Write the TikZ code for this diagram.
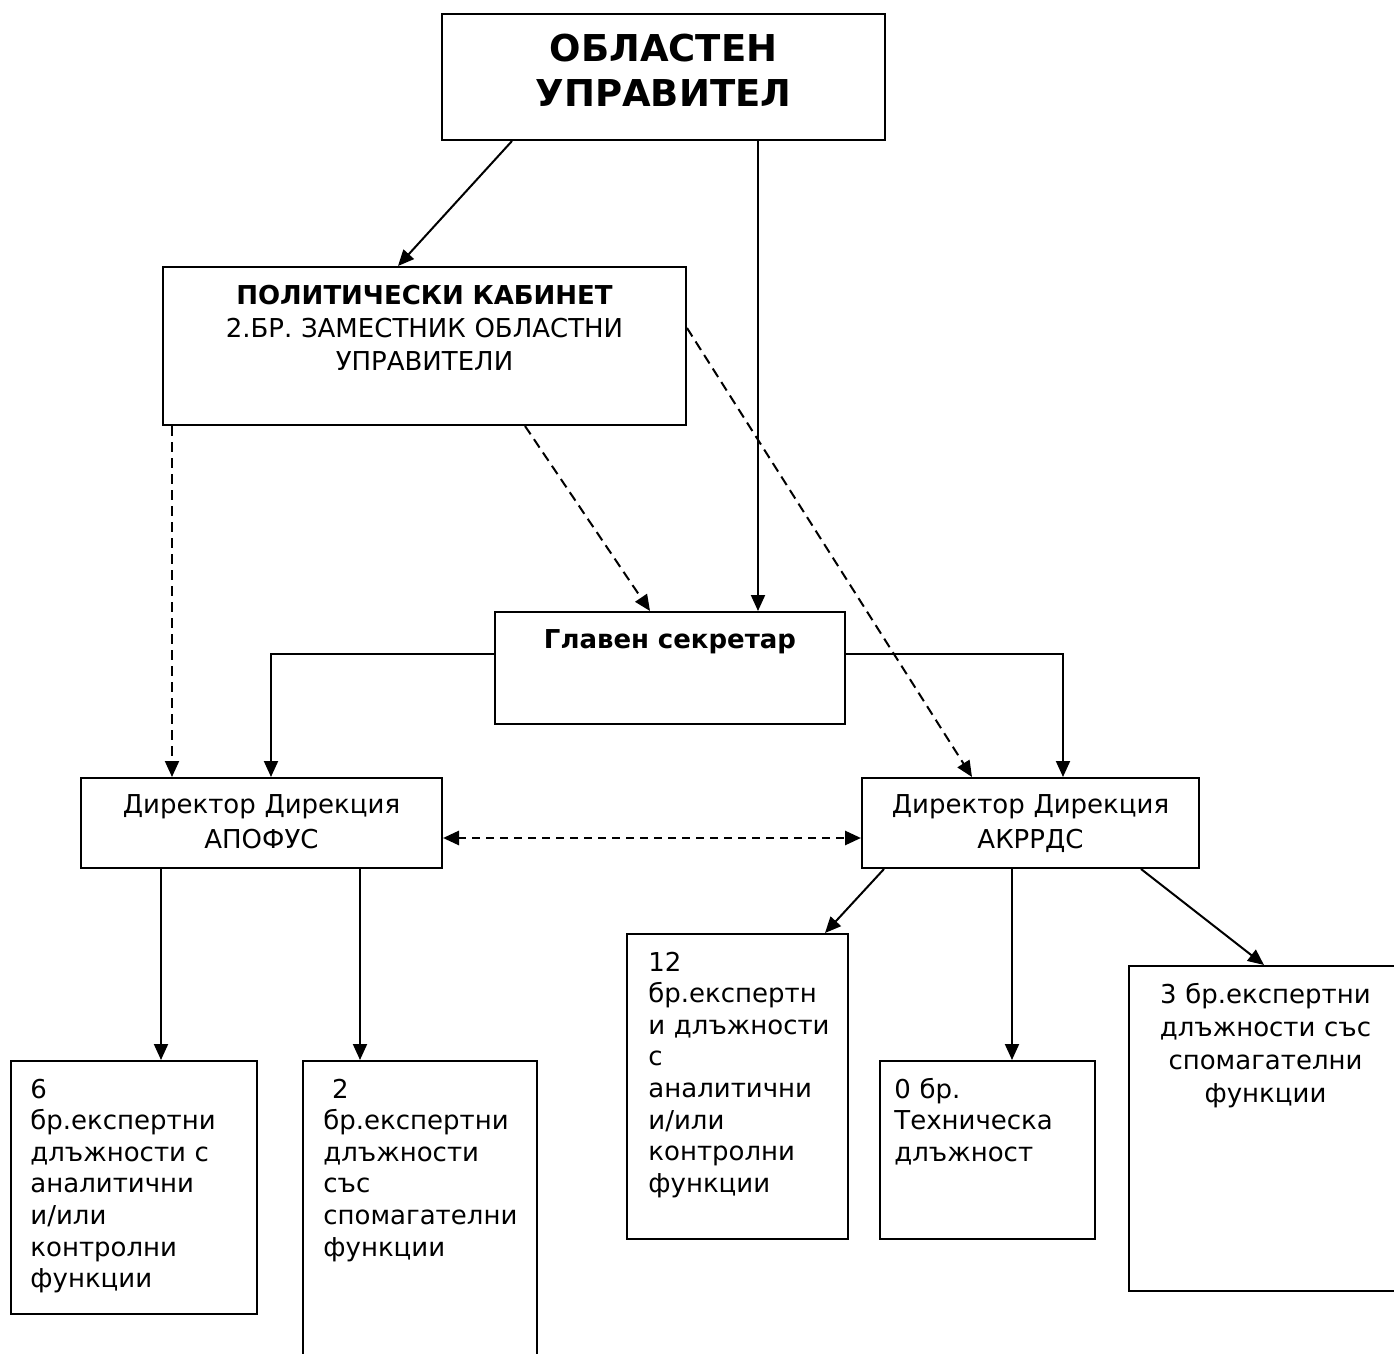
\documentclass[tikz,border=0pt]{standalone}
\usepackage{fontspec}
\setmainfont{DejaVu Sans}
\usetikzlibrary{arrows.meta}
\tikzstyle{org-box}=[draw,rectangle,line width=1pt,anchor=north west,inner sep=0pt]
\tikzstyle{title-text}=[anchor=base,inner sep=0pt,align=center,font=\fontsize{18.5pt}{22.5pt}\selectfont\bfseries]
\tikzstyle{box-text}=[anchor=base,inner sep=0pt,align=center,font=\fontsize{13pt}{16.5pt}\selectfont]
\tikzstyle{list-text}=[anchor=base west,inner sep=0pt,align=left,text width=105pt,font=\fontsize{13pt}{15.8pt}\selectfont]
\tikzstyle{black-line}=[draw=black,line width=1pt]
\tikzstyle{dash-line}=[draw=black,line width=1pt,dash pattern=on 5pt off 3pt]

\begin{document}
\begin{tikzpicture}[x=0.5pt,y=-0.5pt]
	\useasboundingbox (0,0) rectangle (1394,1354);
	\clip (0,0) rectangle (1394,1354);
	\begin{scope}
	\node (gov)[org-box,minimum width=221.5pt,minimum height=63pt] at (441,13) {};
	\node (cab)[org-box,minimum width=261.5pt,minimum height=79pt] at (162,266) {};
	\node (sec)[org-box,minimum width=175pt,minimum height=56pt] at (494,611) {};
	
	\node (apo)[org-box,minimum width=180.5pt,minimum height=45pt] at (80,777) {};
	\node (akr)[org-box,minimum width=168.5pt,minimum height=45pt] at (861,777) {};
	
	\node (b1)[org-box,minimum width=123pt,minimum height=126.5pt] at (10,1060) {};
	\node (b2)[org-box,minimum width=117pt,minimum height=170pt] at (302,1060) {};
	\node (b3)[org-box,minimum width=110.5pt,minimum height=152.5pt] at (626,933) {};
	\node (b4)[org-box,minimum width=107.5pt,minimum height=89pt] at (879,1060) {};
	\node (b5)[org-box,minimum width=136.5pt,minimum height=162.5pt] at (1128,965) {};
	\end{scope}
	
	\begin{scope}
	\node (gov-text)[title-text,text width=215pt] at ([yshift=-24.5pt]gov.north) {ОБЛАСТЕН\\УПРАВИТЕЛ};
	\node (cab-text)[box-text,text width=255pt] at ([yshift=-19.5pt]cab.north) {{\bfseries ПОЛИТИЧЕСКИ КАБИНЕТ}\\2.БР. ЗАМЕСТНИК ОБЛАСТНИ\\УПРАВИТЕЛИ};
	\node (sec-text)[box-text,text width=170pt,font=\fontsize{13pt}{16.5pt}\selectfont\bfseries] at ([yshift=-18.5pt]sec.north) {Главен секретар};
	\node (apo-text)[box-text,text width=175pt,font=\fontsize{13pt}{17.5pt}\selectfont] at ([yshift=-18pt]apo.north) {Директор Дирекция\\АПОФУС};
	\node (akr-text)[box-text,text width=165pt,font=\fontsize{13pt}{17.5pt}\selectfont] at ([yshift=-18pt]akr.north) {Директор Дирекция\\АКРРДС};
	
	\node (b1-text)[list-text] at ([xshift=10pt,yshift=-19pt]b1.north west) {6\\бр.експертни\\длъжности с\\аналитични\\и/или\\контролни\\функции};
	\node (b2-text)[list-text] at ([xshift=10.5pt,yshift=-19pt]b2.north west) {\ 2\\бр.експертни\\длъжности\\със\\спомагателни\\функции};
	\node (b3-text)[list-text] at ([xshift=11pt,yshift=-19pt]b3.north west) {12\\бр.експертн\\и длъжности\\с\\аналитични\\и/или\\контролни\\функции};
	\node (b4-text)[list-text] at ([xshift=7.5pt,yshift=-19pt]b4.north west) {0 бр.\\Техническа\\длъжност};
	\node (b5-text)[box-text,text width=130pt] at ([yshift=-19pt]b5.north) {3 бр.експертни\\длъжности със\\спомагателни\\функции};
	\end{scope}
	
	\begin{scope}[>={Triangle[length=8pt,width=7pt]}, every edge/.style=black-line]
	\path [->] ([xshift=35.5pt]gov.south west) edge ([xshift=118pt]cab.north west);
	\path [->] ([xshift=158.5pt]gov.south west) edge ([xshift=132pt]sec.north west);
	\path [->] ([xshift=181.5pt]cab.south west) edge[dash-line] ([xshift=78pt]sec.north west);
	\path [->] ([yshift=-31pt]cab.north east) edge[dash-line] ([xshift=55.5pt]akr.north west);
	\path [->] ([xshift=5pt]cab.south west) edge[dash-line] ([xshift=46pt]apo.north west);
	\path [->] ([yshift=-21.5pt]sec.north west) edge[to path={-| (\tikztotarget)}] ([xshift=95.5pt]apo.north west);
	\path [->] ([yshift=-21.5pt]sec.north east) edge[to path={-| (\tikztotarget)}] ([xshift=101pt]akr.north west);
	\path [<->] ([yshift=-30.5pt]apo.north east) edge[dash-line,line width=1.4pt,dash pattern=on 4pt off 3pt] ([yshift=-30.5pt]akr.north west);
	\path [->] ([xshift=40.5pt]apo.south west) edge ([xshift=75.5pt]b1.north west);
	\path [->] ([xshift=140pt]apo.south west) edge ([xshift=29pt]b2.north west);
	\path [->] ([xshift=11.5pt]akr.south west) edge ([xshift=99.5pt]b3.north west);
	\path [->] ([xshift=75.5pt]akr.south west) edge ([xshift=66.5pt]b4.north west);
	\path [->] ([xshift=140pt]akr.south west) edge ([xshift=68pt]b5.north west);
	\end{scope}
\end{tikzpicture}
\end{document}
